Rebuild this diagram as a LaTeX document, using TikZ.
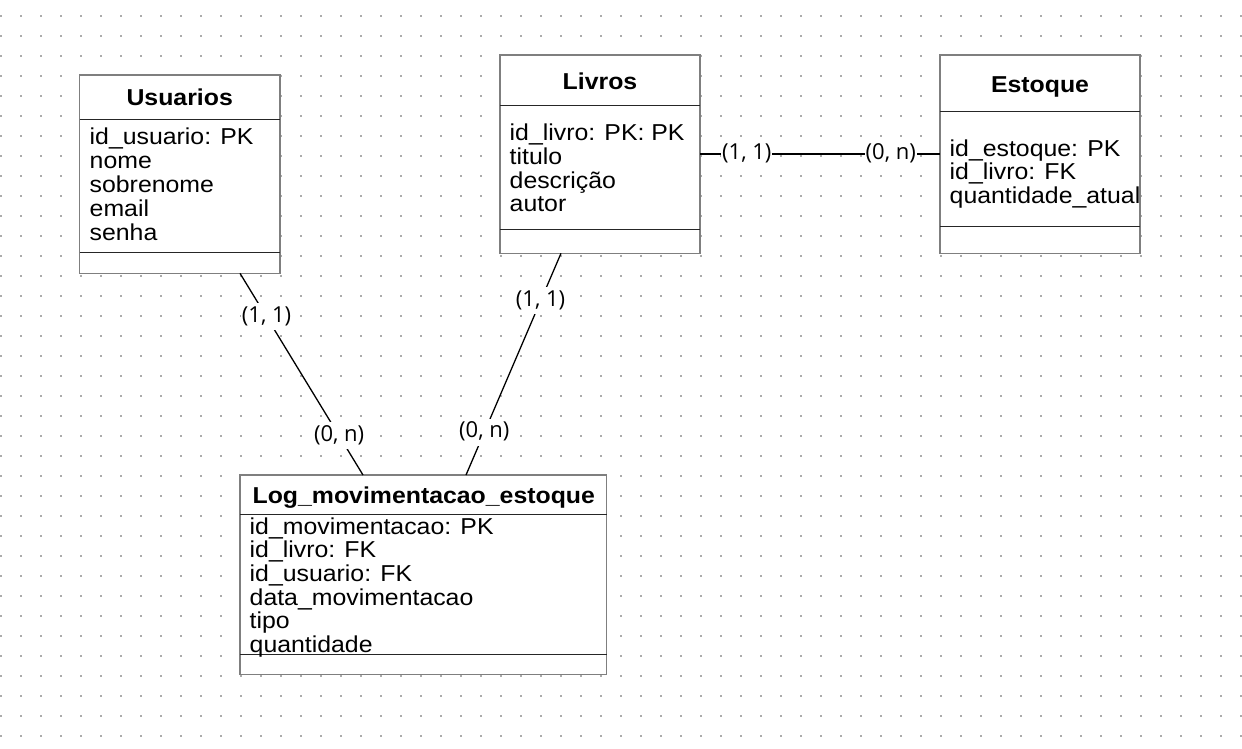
\documentclass[tikz,border=0pt]{standalone}
\usepackage{fontspec}
\setmainfont[FakeStretch=1.08]{Liberation Sans}
\newfontfamily\lblfont{Open Sans}
\definecolor{dotc}{HTML}{ABABAB}
\definecolor{brd}{HTML}{7F7F7F}
\tikzset{
  tbl/.style={draw=brd, line width=1.4pt, fill=white, inner sep=0pt, outer sep=0pt, anchor=north west},
  sepline/.style={draw=black!85, line width=1pt},
  ttl/.style={font=\fontsize{23}{24}\selectfont\bfseries, inner sep=0pt, anchor=base},
  bodyt/.style={font=\fontsize{23}{24}\selectfont, inner sep=0pt, anchor=base west},
  conn/.style={draw=black, line width=1.3pt},
  card/.style={font=\lblfont\fontsize{22}{24}\selectfont, fill=white, inner xsep=1pt, inner ysep=3pt, text height=16pt, text depth=5pt}
}
\begin{document}
\begin{tikzpicture}[x=1pt,y=-1pt]
\useasboundingbox (0,0) rectangle (1242,748);
% dotted grid
\foreach \i in {0,...,62}{
  \foreach \j in {0,...,36}{
    \fill[dotc] (\i*20,14.7+\j*20) rectangle ++(2,2);
  }
}
% Usuarios
\node[tbl, minimum width=200.5pt, minimum height=198.3pt] (usr) at (79.5,75) {};
\draw[sepline] ([yshift=-44.3pt]usr.north west) -- ([yshift=-44.3pt]usr.north east);
\draw[sepline] ([yshift=21pt]usr.south west) -- ([yshift=21pt]usr.south east);
\node[ttl] (usr-t) at (179.7,105) {Usuarios};
\foreach \t [count=\k] in {id\_usuario: PK, nome, sobrenome, email, senha}{
  \node[bodyt] (usr-\k) at (89.5,144.3+24*\k-24) {\t};
}
% Livros
\node[tbl, minimum width=200pt, minimum height=198.3pt] (liv) at (500,55) {};
\draw[sepline] ([yshift=-50pt]liv.north west) -- ([yshift=-50pt]liv.north east);
\draw[sepline] ([yshift=24pt]liv.south west) -- ([yshift=24pt]liv.south east);
\node[ttl] (liv-t) at (600,89.3) {Livros};
\foreach \t [count=\k] in {id\_livro: PK: PK, titulo, descrição, autor}{
  \node[bodyt] (liv-\k) at (509.5,140.7+23.7*\k-23.7) {\t};
}
% Estoque
\node[tbl, minimum width=200pt, minimum height=198.3pt] (est) at (940,55) {};
\draw[sepline] ([yshift=-56.7pt]est.north west) -- ([yshift=-56.7pt]est.north east);
\draw[sepline] ([yshift=27.3pt]est.south west) -- ([yshift=27.3pt]est.south east);
\node[ttl] (est-t) at (1040,92.7) {Estoque};
\foreach \t [count=\k] in {id\_estoque: PK, id\_livro: FK, quantidade\_atual}{
  \node[bodyt] (est-\k) at (949.5,156+23.7*\k-23.7) {\t};
}
% Log
\node[tbl, minimum width=366.7pt, minimum height=199.3pt] (log) at (240,475) {};
\draw[sepline] ([yshift=-39.3pt]log.north west) -- ([yshift=-39.3pt]log.north east);
\draw[sepline] ([yshift=20pt]log.south west) -- ([yshift=20pt]log.south east);
\node[ttl] (log-t) at (423.8,503.3) {Log\_movimentacao\_estoque};
\foreach \t [count=\k] in {id\_movimentacao: PK, id\_livro: FK, id\_usuario: FK, data\_movimentacao, tipo, quantidade}{
  \node[bodyt] (log-\k) at (249.5,534+23.7*\k-23.7) {\t};
}
% connector end points
\coordinate (uA) at (240,273.3);
\coordinate (lA) at (363,475);
\coordinate (vA) at (561,253.3);
\coordinate (lB) at (466,475);
\coordinate (vB) at (700,154);
\coordinate (eB) at (940,154);
% connectors
\draw[conn] (uA) -- node[card, pos=0.216] (c1) {(1, 1)} node[card, pos=0.806] (c2) {(0, n)} (lA);
\draw[conn] (vA) -- node[card, pos=0.215] (c3) {(1, 1)} node[card, pos=0.807] (c4) {(0, n)} (lB);
\draw[conn] (vB) -- node[card, pos=0.195] (c5) {(1, 1)} node[card, pos=0.795] (c6) {(0, n)} (eB);
\end{tikzpicture}
\end{document}
